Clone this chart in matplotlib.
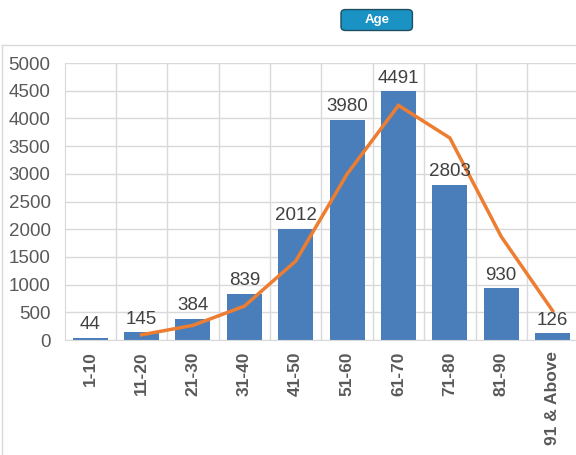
import matplotlib
matplotlib.use("Agg")
import matplotlib.pyplot as plt
from matplotlib.lines import Line2D
from matplotlib.patches import FancyBboxPatch

# Age distribution (counts per age band)
age_groups = ["1-10", "11-20", "21-30", "31-40", "41-50", "51-60",
              "61-70", "71-80", "81-90", "91 & Above"]
counts = [44, 145, 384, 839, 2012, 3980, 4491, 2803, 930, 126]
# 2-period moving average trendline, starts at 2nd category
trend_x = age_groups[1:]
trend_vals = [94.5, 264.5, 611.5, 1425.5, 2996, 4235.5, 3647, 1866.5, 528]

plt.rcParams["font.family"] = ["Liberation Sans", "DejaVu Sans"]

fig = plt.figure(figsize=(5.76, 4.55), dpi=100)
ax = fig.add_axes([0.112, 0.2527, 0.892, 0.6088])

xs = list(range(len(age_groups)))
ax.bar(xs, counts, width=0.68, color="#4a7ebb", zorder=2)
tx = [age_groups.index(g) for g in trend_x]
ax.plot(tx, trend_vals, color="#ed7d31", lw=2.5, zorder=3,
        solid_joinstyle="miter")

for x, v in zip(xs, counts):
    ax.text(x, v + 80, str(v), ha="center", va="bottom", fontsize=13.5,
            color="#404040", zorder=4)

ax.set_xlim(-0.5, len(age_groups) - 0.5)
ax.set_ylim(0, 5000)
ax.set_yticks(range(0, 5001, 500))
ax.set_xticks([x + 0.5 for x in xs[:-1]], minor=True)
ax.set_xticks(xs)
ax.set_xticklabels(age_groups, rotation=90, fontsize=12.5,
                   fontweight="bold", color="#595959")
ax.tick_params(axis="y", labelsize=13.5, labelcolor="#595959", length=0, pad=10)
ax.tick_params(axis="x", which="both", length=0, pad=8)
ax.grid(axis="y", color="#d9d9d9", lw=1, zorder=0)
ax.grid(axis="x", which="minor", color="#d9d9d9", lw=1, zorder=0)
for s in ["top", "right"]:
    ax.spines[s].set_visible(False)
ax.spines["left"].set_color("#d9d9d9")
ax.spines["bottom"].set_color("#d9d9d9")
ax.spines["left"].set_zorder(0)

# chart area frame (cropped)
fig.add_artist(Line2D([0.003, 1.0], [0.901, 0.901], color="#d9d9d9", lw=1,
                      transform=fig.transFigure))
fig.add_artist(Line2D([0.003, 0.003], [0.0, 0.901], color="#d9d9d9", lw=1,
                      transform=fig.transFigure))

# "Age" title button
fig.patches.append(FancyBboxPatch(
    (0.592, 0.933), 0.124, 0.046, boxstyle="round,pad=0,rounding_size=0.008",
    transform=fig.transFigure, fc="#1a93c4", ec="#1f4e62", lw=1, zorder=1))
fig.text(0.654, 0.956, "Age", ha="center", va="center", fontsize=9.5,
         fontweight="bold", color="white", zorder=2)

fig.savefig("out.png", dpi=100)
